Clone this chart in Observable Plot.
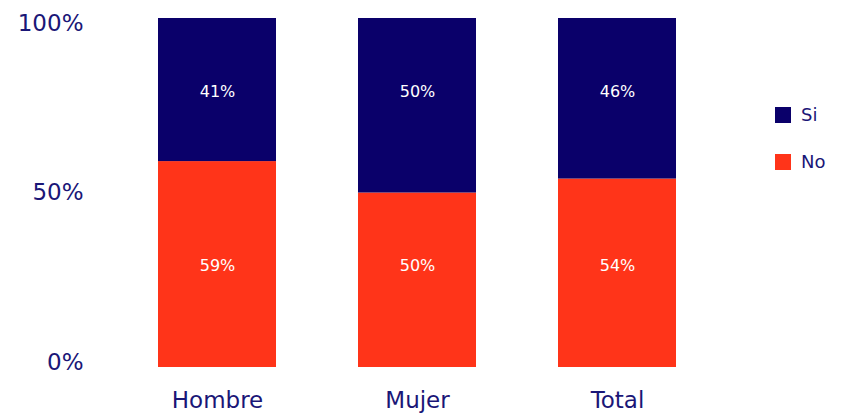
<!DOCTYPE html>
<html>
<head>
<meta charset="utf-8">
<script src="https://cdn.jsdelivr.net/npm/d3@7"></script>
<script src="https://cdn.jsdelivr.net/npm/@observablehq/plot@0.6"></script>
<style>
  html, body { margin: 0; padding: 0; background: #fff; }
  #wrap { position: relative; width: 841px; height: 416px; font-family: "DejaVu Sans", Verdana, sans-serif; }
  #legend { position: absolute; left: 775px; top: 107px; color: #1a1677; font-size: 18px; }
  .item { display: flex; align-items: center; height: 16px; margin-bottom: 31px; line-height: 16px; }
  .sw { width: 16px; height: 16px; margin-right: 10px; }
</style>
</head>
<body>
<div id="wrap"><div id="chart"></div><div id="legend"></div></div>
<script>
const categories = ["Hombre", "Mujer", "Total"];
const series = ["No", "Si"];
const noValues = [59, 50, 54];
const siValues = [41, 50, 46];
const colors = ["#ff3419", "#0a006a"];
const legendOrder = ["Si", "No"];
const yTicks = [0, 50, 100];
// labels sit at a fixed level per series in the reference
const labelLevel = {No: 29, Si: 79};

const data = [];
categories.forEach((c, i) => {
  data.push({cat: c, s: "No", v: noValues[i]});
  data.push({cat: c, s: "Si", v: siValues[i]});
});

const textColor = "#1a1677";
const fmt = d => d + "%";
const axisOpts = {tickSize: 0, tickPadding: 34, tickFormat: fmt, fontSize: 23, color: textColor, label: null};

const chart = Plot.plot({
  width: 841,
  height: 416,
  marginLeft: 117,
  marginRight: 124,
  marginTop: 18,
  marginBottom: 49,
  style: {fontFamily: "'DejaVu Sans', Verdana, sans-serif", background: "#fff"},
  x: {domain: categories, paddingInner: 0.41, paddingOuter: 0.205, label: null},
  y: {domain: [0, 100], label: null},
  color: {domain: series, range: colors},
  marks: [
    Plot.barY(data, Plot.stackY({x: "cat", y: "v", fill: "s", order: series})),
    Plot.text(data, {x: "cat", y: d => labelLevel[d.s], text: d => fmt(d.v), fill: "white", fontSize: 16}),
    Plot.axisY([100], {...axisOpts, dy: 5}),
    Plot.axisY([50], axisOpts),
    Plot.axisY([0], {...axisOpts, dy: -5}),
    Plot.axisX({tickSize: 0, tickPadding: 24, fontSize: 23, color: textColor, label: null})
  ]
});
document.getElementById("chart").appendChild(chart);

const leg = document.getElementById("legend");
legendOrder.forEach(s => {
  const it = document.createElement("div");
  it.className = "item";
  const sw = document.createElement("div");
  sw.className = "sw";
  sw.style.background = colors[series.indexOf(s)];
  const t = document.createElement("span");
  t.textContent = s;
  it.appendChild(sw); it.appendChild(t);
  leg.appendChild(it);
});
</script>
</body>
</html>
